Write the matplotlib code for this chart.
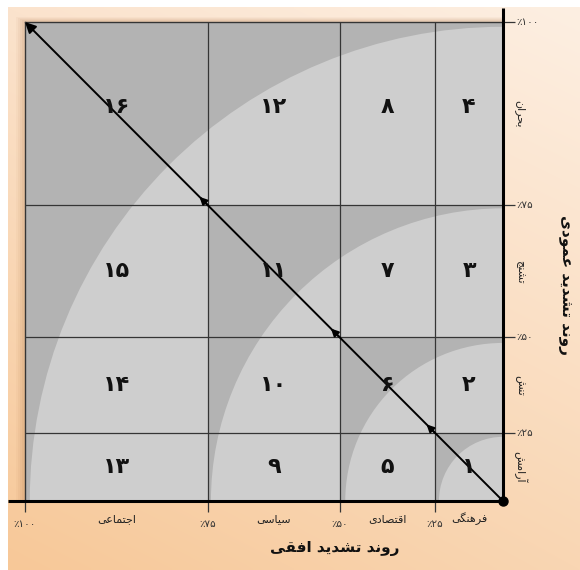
import numpy as np
import matplotlib
matplotlib.use("Agg")
import matplotlib.pyplot as plt
from matplotlib.patches import Rectangle, Wedge
from matplotlib.colors import to_rgb

# ---- data ----
levels = [0.25, 0.50, 0.75, 1.00]
level_labels = ["٪۲۵", "٪۵۰", "٪۷۵", "٪۱۰۰"]
x_categories = ["فرهنگی", "اقتصادی", "سیاسی", "اجتماعی"]   # from origin outwards
y_categories = ["آرامش", "تنش", "تشنج", "بحران"]           # from origin upwards
cell_numbers = [[1, 2, 3, 4], [5, 6, 7, 8], [9, 10, 11, 12], [13, 14, 15, 16]]  # [col][row]
x_title = "روند تشدید افقی"
y_title = "روند تشدید عمودی"

# where each level sits along an axis (fraction of the square side) and the arc radii
level_pos = [0.142, 0.342, 0.617, 1.0]
arc_radius = [0.134, 0.33, 0.611, 0.99]

# ---- minimal Persian shaping (matplotlib has no complex text layout) ----
FORMS = {  # isolated, final, initial, medial
    'ا': (0xFE8D, 0xFE8E), 'آ': (0xFE81, 0xFE82), 'د': (0xFEA9, 0xFEAA),
    'ر': (0xFEAD, 0xFEAE), 'و': (0xFEED, 0xFEEE),
    'ب': (0xFE8F, 0xFE90, 0xFE91, 0xFE92), 'ت': (0xFE95, 0xFE96, 0xFE97, 0xFE98),
    'ج': (0xFE9D, 0xFE9E, 0xFE9F, 0xFEA0), 'ح': (0xFEA1, 0xFEA2, 0xFEA3, 0xFEA4),
    'س': (0xFEB1, 0xFEB2, 0xFEB3, 0xFEB4), 'ش': (0xFEB5, 0xFEB6, 0xFEB7, 0xFEB8),
    'ص': (0xFEB9, 0xFEBA, 0xFEBB, 0xFEBC), 'ع': (0xFEC9, 0xFECA, 0xFECB, 0xFECC),
    'ف': (0xFED1, 0xFED2, 0xFED3, 0xFED4), 'ق': (0xFED5, 0xFED6, 0xFED7, 0xFED8),
    'م': (0xFEE1, 0xFEE2, 0xFEE3, 0xFEE4), 'ن': (0xFEE5, 0xFEE6, 0xFEE7, 0xFEE8),
    'ه': (0xFEE9, 0xFEEA, 0xFEEB, 0xFEEC), 'ی': (0xFBFC, 0xFBFD, 0xFBFE, 0xFBFF),
    'گ': (0xFB92, 0xFB93, 0xFB94, 0xFB95),
}


def fa(text):
    out = []
    for i, ch in enumerate(text):
        if ch not in FORMS:
            out.append(ch)
            continue
        prev = text[i - 1] if i > 0 else ''
        nxt = text[i + 1] if i + 1 < len(text) else ''
        join_prev = prev in FORMS and len(FORMS[prev]) == 4
        join_next = len(FORMS[ch]) == 4 and nxt in FORMS
        f = FORMS[ch]
        if join_prev and join_next:
            out.append(chr(f[3]))
        elif join_prev:
            out.append(chr(f[1]))
        elif join_next:
            out.append(chr(f[2]))
        else:
            out.append(chr(f[0]))
    return ''.join(out)[::-1]


def fa_num(n):
    return ''.join('۰۱۲۳۴۵۶۷۸۹'[int(d)] for d in str(n))


plt.rcParams['font.family'] = ['DejaVu Sans']
W, H = 580, 570
fig = plt.figure(figsize=(W / 100, H / 100), dpi=100)

# ---- peach gradient background ----
bg = fig.add_axes([0, 0, 1, 1], zorder=-10)
bg.set_xlim(0, W)
bg.set_ylim(H, 0)
bg.axis('off')
tl, tr = np.array(to_rgb('#fbe3cd')), np.array(to_rgb('#fdefe2'))
bl, br = np.array(to_rgb('#f7c898')), np.array(to_rgb('#f9d6b3'))
u = np.linspace(0, 1, 200)[None, :, None]
v = np.linspace(0, 1, 200)[:, None, None]
grad = (1 - v) * ((1 - u) * tl + u * tr) + v * ((1 - u) * bl + u * br)
bg.imshow(grad, extent=(8, W, H, 7), aspect='auto', interpolation='bilinear')
# soft shadow round the square
for k, a in zip([9, 7, 5, 3], [0.04, 0.05, 0.06, 0.07]):
    bg.add_patch(Rectangle((25 - k, 22 - k * 0.6), 478 + k, 479 + k * 0.6,
                           facecolor='#a0602a', alpha=a, edgecolor='none'))

# ---- main square ----
ax = fig.add_axes([25 / W, 1 - 501 / H, 478 / W, 479 / H])
ax.set_xlim(1, 0)
ax.set_ylim(0, 1)
ax.axis('off')

dark, light = '#b3b3b3', '#cecece'
for p, r in sorted(zip(level_pos, arc_radius), reverse=True):
    ax.add_patch(Rectangle((0, 0), p, p, facecolor=dark, edgecolor='none'))
    ax.add_patch(Wedge((0, 0), r, 0, 90, facecolor=light, edgecolor='none'))

grid_c = '#353535'
ax.vlines(level_pos[:-1], 0, 1, color=grid_c, lw=0.9)
ax.hlines(level_pos[:-1], 0, 1, color=grid_c, lw=0.9)
ax.plot([1, 1], [0, 1], color=grid_c, lw=1.0, clip_on=False)
ax.plot([0, 1], [1, 1], color=grid_c, lw=1.0, clip_on=False)
# tick extensions
ax.hlines(level_pos, -0.025, 0, color=grid_c, lw=0.9, clip_on=False)
ax.vlines(level_pos, -0.023, 0, color=grid_c, lw=0.9, clip_on=False)
# heavy axes along bottom and right
ax.plot([0, 0], [0, 1.029], color='black', lw=2.2, clip_on=False, solid_capstyle='butt')
ax.plot([0, 1.036], [0, 0], color='black', lw=2.2, clip_on=False, solid_capstyle='butt')

# diagonal arrow with mid arrowheads
ax.annotate('', xy=(1, 1), xytext=(0, 0),
            arrowprops=dict(arrowstyle='-|>', color='black', lw=1.4,
                            mutation_scale=16, shrinkA=0, shrinkB=0))
for p in level_pos[:-1]:
    ax.annotate('', xy=(p + 0.018, p + 0.018), xytext=(p, p),
                arrowprops=dict(arrowstyle='-|>', color='black', lw=1.4,
                                mutation_scale=11, shrinkA=0, shrinkB=0))
ax.plot([0], [0], 'o', color='black', ms=6.5, clip_on=False, zorder=5)

# cell numbers
edges = [0] + level_pos
for ci in range(4):
    for ri in range(4):
        cx = (edges[ci] + edges[ci + 1]) / 2
        cy = (edges[ri] + edges[ri + 1]) / 2
        if ri == 3:
            cy += 0.015
        ax.text(cx, cy, fa_num(cell_numbers[ci][ri]), ha='center', va='center',
                fontsize=16, fontweight='bold', color='#111111')

# axis tick labels and category labels
xt = ax.get_xaxis_transform()
yt = ax.get_yaxis_transform()
for p, lab in zip(level_pos, level_labels):
    ax.text(p, -0.047, lab, transform=xt, ha='center', va='center',
            fontsize=7.5, color='#333333', clip_on=False)
    ax.text(1.028, p, lab, transform=yt, ha='left', va='center',
            fontsize=7.5, color='#333333', clip_on=False)
for i, lab in enumerate(x_categories):
    cx = (edges[i] + edges[i + 1]) / 2
    ax.text(cx, -0.037, fa(lab), transform=xt, ha='center', va='center',
            fontsize=8, color='#222222', clip_on=False)
for i, lab in enumerate(y_categories):
    cy = (edges[i] + edges[i + 1]) / 2
    ax.text(1.035, cy, fa(lab), transform=yt, ha='center', va='center',
            rotation=270, fontsize=8, color='#222222', clip_on=False)

fig.text(335 / W, 1 - 549 / H, fa(x_title), ha='center', va='center',
         fontsize=11, fontweight='bold', color='#111111')
fig.text(566 / W, 1 - 285 / H, fa(y_title), ha='center', va='center',
         rotation=270, fontsize=11, fontweight='bold', color='#111111')

fig.savefig('out.png', dpi=100)
